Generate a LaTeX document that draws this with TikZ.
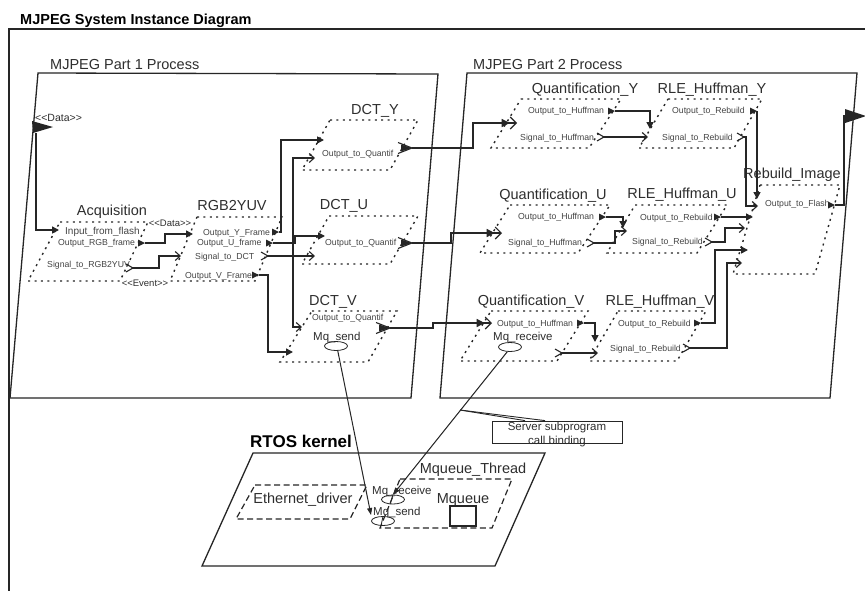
\documentclass[tikz,border=0pt]{standalone}
\usepackage{fontspec}
\setmainfont{Liberation Sans}
\usetikzlibrary{arrows.meta,shapes.geometric}
\definecolor{ln}{HTML}{262626}
\definecolor{tx}{HTML}{2E2E2E}
\definecolor{stx}{HTML}{454545}
\begin{document}
\begin{tikzpicture}[x=1pt,y=-1pt,
  frame/.style={draw=ln,line width=1.3pt,line join=miter},
  thread/.style={draw=ln,line width=1.4pt,dash pattern=on 2pt off 4.4pt},
  rthread/.style={draw=ln,line width=1.2pt,dash pattern=on 6pt off 3.5pt},
  conn/.style={draw=ln,line width=1.5pt},
  darr/.style={conn,-{Triangle[length=7pt,width=7pt]}},
  earr/.style={conn,-{Straight Barb[length=5pt,width=9pt,line width=1.1pt]}},
  edarr/.style={conn,-{Triangle[length=8pt,width=8pt]Straight Barb[length=6pt,width=12pt,line width=1.1pt]}},
  linkarr/.style={draw=ln,line width=1pt,-{Triangle[length=7pt,width=5pt]}},
  titlef/.style={font=\bfseries\fontsize{14.5}{16}\selectfont,text=black,inner sep=0pt},
  rtosf/.style={font=\bfseries\fontsize{17}{19}\selectfont,text=black,inner sep=0pt},
  big/.style={font=\fontsize{14.5}{16}\selectfont,text=tx,inner sep=0pt},
  mid/.style={font=\fontsize{11.5}{13}\selectfont,text=tx,inner sep=0pt},
  small/.style={font=\fontsize{8.7}{10}\selectfont,text=stx,inner sep=0pt},
  tag/.style={font=\fontsize{9.5}{11}\selectfont,text=tx,inner sep=0pt},
  ell/.style={draw=ln,line width=0.8pt,ellipse,minimum width=23pt,minimum height=9pt,inner sep=0pt},
  dport/.pic={\fill[ln] (-7,-3.5) -- (0,0) -- (-7,3.5) -- cycle;},
  eport/.pic={\draw[ln,line width=1.1pt] (-7,-4) -- (0,0) -- (-7,4);},
  edport/.pic={\draw[ln,line width=1.1pt] (-14,-5.5) -- (0,0) -- (-14,5.5);
               \fill[ln] (-11,-3.5) -- (0,0) -- (-11,3.5) -- cycle;}
]
\useasboundingbox (0,0) rectangle (865,590);
\fill[white] (0,0) rectangle (865,590);

% ---------- system frame ----------
\node[titlef,anchor=base west] (title) at (20,24) {MJPEG System Instance Diagram};
\draw[frame] (9,592) -- (9,29) -- (867,29);

% ---------- processes ----------
\draw[frame] (38,73) -- (438,74) -- (411,398) -- (10,398) -- cycle;
\draw[frame] (467,73) -- (857,73) -- (830,398) -- (440,398) -- cycle;
\node[big,anchor=base west] (p1lbl) at (50,69) {MJPEG Part 1 Process};
\node[big,anchor=base west] (p2lbl) at (473,69.5) {MJPEG Part 2 Process};

% Part 1 data port
\node[tag,font=\fontsize{10.5}{12}\selectfont,anchor=base west] (p1data) at (35,121) {<{}<Data>{}>};
\fill[ln] (32,121) -- (53,127) -- (33,133) -- cycle;
\coordinate (p1port) at (36,133);

% ---------- Acquisition ----------
\draw[thread] (60,222) -- (148,222) -- (120,281) -- (28,281) -- cycle;
\node[big,anchor=base] (acq) at (112,215) {Acquisition};
\node[small,font=\fontsize{10}{11}\selectfont,anchor=base west] (acqinl) at (65,234) {Input\_from\_flash};
\node[small,anchor=base west] (acqrgbl) at (58,245) {Output\_RGB\_frame};
\node[small,anchor=base west] (acqsigl) at (47,267) {Signal\_to\_RGB2YUV};
\coordinate (acqin) at (59,230);
\coordinate (acqrgb) at (145,243);
\coordinate (acqsig) at (133,268);
\pic at (acqrgb) {dport};
\pic at (acqsig) {eport};

% ---------- RGB2YUV ----------
\draw[thread] (197,217) -- (282,217) -- (255,281) -- (170,281) -- cycle;
\node[big,anchor=base] (rgb) at (232,210) {RGB2YUV};
\node[tag,anchor=base] (datatag) at (170,226) {<{}<Data>{}>};
\node[tag,anchor=base] (eventtag) at (145,286) {<{}<Event>{}>};
\node[small,anchor=base west] (rgbyl) at (203,235) {Output\_Y\_Frame};
\node[small,anchor=base west] (rgbul) at (197,245.5) {Output\_U\_frame};
\node[small,anchor=base west] (rgbsl) at (195,259) {Signal\_to\_DCT};
\node[small,anchor=base west] (rgbvl) at (185,278) {Output\_V\_Frame};
\coordinate (rgbin) at (193,234);
\coordinate (rgbsin) at (181,256);
\coordinate (rgby) at (279,232);
\coordinate (rgbu) at (273,243);
\coordinate (rgbs) at (268,256);
\coordinate (rgbv) at (259,275);
\pic at (rgby) {dport};
\pic at (rgbu) {dport};
\pic at (rgbs) {eport};
\pic at (rgbv) {dport};

% ---------- DCT_Y ----------
\draw[thread] (330,120) -- (418,120) -- (390,170) -- (302,170) -- cycle;
\node[big,anchor=base] (dcty) at (375,114) {DCT\_Y};
\node[small,anchor=base west] (dctyol) at (322,156) {Output\_to\_Quantif};
\coordinate (dctyin) at (324,140);
\coordinate (dctysin) at (315,158);
\coordinate (dctyo) at (412,148);
\pic at (dctyo) {edport};

% ---------- DCT_U ----------
\draw[thread] (329,216) -- (418,216) -- (390,264) -- (302,264) -- cycle;
\node[big,anchor=base] (dctu) at (344,209) {DCT\_U};
\node[small,anchor=base west] (dctuol) at (325,245) {Output\_to\_Quantif};
\coordinate (dctuin) at (325,236);
\coordinate (dctusin) at (315,256);
\coordinate (dctuo) at (412,243);
\pic at (dctuo) {edport};

% ---------- DCT_V ----------
\draw[thread] (312,311) -- (397,311) -- (368,362) -- (280,362) -- cycle;
\node[big,anchor=base] (dctv) at (333,305) {DCT\_V};
\node[small,anchor=base west] (dctvol) at (312,320) {Output\_to\_Quantif};
\node[mid,anchor=base west] (dctvmq) at (313,340) {Mq\_send};
\node[ell] (dctvell) at (336,346) {};
\coordinate (dctvsin) at (302,327);
\coordinate (dctvin) at (293,352);
\coordinate (dctvo) at (390,328);
\pic at (dctvo) {edport};

% ---------- Part 1 connections ----------
\draw[darr] (p1port) |- (acqin);
\draw[darr] (acqrgb) -- (165,243) |- (rgbin);
\draw[earr] (acqsig) -- (159,268) |- (rgbsin);
\draw[darr] (rgby) -- (281,232) |- (dctyin);
\draw[darr] (rgbu) -- (295,243) |- (dctuin);
\coordinate (sigjoin) at (293,256);
\draw[earr] (rgbs) -- (dctusin);
\draw[earr] (sigjoin) |- (dctysin);
\draw[earr] (sigjoin) |- (dctvsin);
\draw[darr] (rgbv) -- (268,275) |- (dctvin);

% ---------- Quantification_Y ----------
\draw[thread] (521,99) -- (621,99) -- (589,148) -- (491,148) -- cycle;
\node[big,anchor=base] (qy) at (585,93) {Quantification\_Y};
\node[small,anchor=base west] (qyol) at (528,113) {Output\_to\_Huffman};
\node[small,anchor=base west] (qysl) at (520,140) {Signal\_to\_Huffman};
\coordinate (qyin) at (517,123);
\coordinate (qyo) at (615,111);
\coordinate (qys) at (604,137);
\pic at (qyo) {dport};
\pic at (qys) {eport};

% ---------- RLE_Huffman_Y ----------
\draw[thread] (668,99) -- (762,99) -- (734,148) -- (639,148) -- cycle;
\node[big,anchor=base] (ry) at (712,93) {RLE\_Huffman\_Y};
\node[small,anchor=base west] (ryol) at (672,113) {Output\_to\_Rebuild};
\node[small,anchor=base west] (rysl) at (662,140) {Signal\_to\_Rebuild};
\coordinate (ryin) at (650,129);
\coordinate (rysin) at (648,137);
\coordinate (ryo) at (757,111);
\coordinate (rys) at (744,137);
\pic at (ryo) {dport};
\pic at (rys) {eport};

% ---------- Rebuild_Image ----------
\draw[thread] (760,185) -- (840,185) -- (815,274) -- (733,274) -- cycle;
\node[big,anchor=base] (rb) at (792,178) {Rebuild\_Image};
\node[small,anchor=base west] (rbol) at (765,206) {Output\_to\_Flash};
\coordinate (rbin1) at (757,199);
\coordinate (rbin2) at (758,206);
\coordinate (rbin3) at (753,217);
\coordinate (rbin4) at (745,228);
\coordinate (rbin5) at (748,250);
\coordinate (rbin6) at (742,263);
\coordinate (rbo) at (835,205);
\pic at (rbo) {dport};
\fill[ln] (845,109) -- (866,116) -- (845,123) -- cycle;
\coordinate (sysport) at (846,116);

% ---------- Quantification_U ----------
\draw[thread] (510,205) -- (610,205) -- (578,253) -- (480,253) -- cycle;
\node[big,anchor=base] (qu) at (553,199) {Quantification\_U};
\node[small,anchor=base west] (quol) at (518,219) {Output\_to\_Huffman};
\node[small,anchor=base west] (qusl) at (508,245) {Signal\_to\_Huffman};
\coordinate (quin) at (502,233);
\coordinate (quo) at (606,217);
\coordinate (qus) at (594,243);
\pic at (quo) {dport};
\pic at (qus) {eport};

% ---------- RLE_Huffman_U ----------
\draw[thread] (635,205) -- (727,205) -- (697,253) -- (607,253) -- cycle;
\node[big,anchor=base] (ru) at (682,198) {RLE\_Huffman\_U};
\node[small,anchor=base west] (ruol) at (640,220) {Output\_to\_Rebuild};
\node[small,anchor=base west] (rusl) at (632,244) {Signal\_to\_Rebuild};
\coordinate (ruin) at (623,228);
\coordinate (rusin) at (627,231);
\coordinate (ruo) at (721,217);
\coordinate (rus) at (712,242);
\pic at (ruo) {dport};
\pic at (rus) {eport};

% ---------- Quantification_V ----------
\draw[thread] (491,311) -- (588,311) -- (557,361) -- (460,361) -- cycle;
\node[big,anchor=base] (qv) at (531,305) {Quantification\_V};
\node[small,anchor=base west] (qvol) at (497,326) {Output\_to\_Huffman};
\node[mid,anchor=base west] (qvmq) at (493,340) {Mq\_receive};
\node[ell] (qvell) at (510,347) {};
\coordinate (qvin) at (492,323);
\coordinate (qvo) at (584,323);
\coordinate (qvs) at (562,353);
\pic at (qvo) {dport};
\pic at (qvs) {eport};

% ---------- RLE_Huffman_V ----------
\draw[thread] (618,311) -- (706,311) -- (677,361) -- (589,361) -- cycle;
\node[big,anchor=base] (rv) at (660,305) {RLE\_Huffman\_V};
\node[small,anchor=base west] (rvol) at (618,326) {Output\_to\_Rebuild};
\node[small,anchor=base west] (rvsl) at (610,351) {Signal\_to\_Rebuild};
\coordinate (rvin) at (595,342);
\coordinate (rvsin) at (598,353);
\coordinate (rvo) at (701,323);
\coordinate (rvs) at (690,348);
\pic at (rvo) {dport};
\pic at (rvs) {eport};

% ---------- inter-process and Part 2 connections ----------
\draw[edarr] (dctyo) -- (473,148) |- (qyin);
\draw[edarr] (dctuo) -- (451,243) |- (quin);
\draw[edarr] (dctvo) -- (433,328) |- (qvin);
\draw[darr] (qyo) -| (ryin);
\draw[earr] (qys) -- (rysin);
\draw[darr] (ryo) -- (rbin1);
\draw[earr] (rys) -- (746,137) |- (rbin2);
\draw[darr] (quo) -| (ruin);
\draw[earr] (qus) -- (615,243) |- (rusin);
\draw[darr] (ruo) -- (rbin3);
\draw[earr] (rus) -- (725,242) |- (rbin4);
\draw[darr] (qvo) -| (rvin);
\draw[earr] (qvs) -- (rvsin);
\draw[darr] (rvo) -- (715,323) |- (rbin5);
\draw[earr] (rvs) -- (727,348) |- (rbin6);
\draw[conn] (rbo) -- (844,205) |- (sysport);

% ---------- server subprogram call binding ----------
\node[draw=ln,line width=0.8pt,minimum width=130pt,minimum height=22pt,inner sep=0pt] (srvbox) at (557,432) {};
\node[mid,anchor=base] (srv1) at (557,430) {Server subprogram};
\node[mid,anchor=base] (srv2) at (557,444) {call binding};
\coordinate (lead) at (460,410);
\draw[ln,line width=0.9pt] (lead) -- ([xshift=-32pt]srvbox.north);
\draw[ln,line width=0.9pt] (lead) -- ([xshift=-12pt]srvbox.north);

% ---------- RTOS kernel ----------
\node[rtosf,anchor=base west] (rtoslbl) at (250,447) {RTOS kernel};
\draw[frame] (253,453) -- (545,453) -- (495,566) -- (202,566) -- cycle;
\draw[rthread] (255,485) -- (367,485) -- (350,519) -- (236,519) -- cycle;
\node[big,anchor=base] (eth) at (303,503) {Ethernet\_driver};
\draw[rthread] (400,479) -- (512,479) -- (492,528) -- (380,528) -- cycle;
\node[big,anchor=base] (mqt) at (473,473) {Mqueue\_Thread};
\node[big,anchor=base] (mq) at (463,503) {Mqueue};
\node[draw=ln,line width=1.3pt,minimum width=26pt,minimum height=20pt,inner sep=0pt] (mqbox) at (463,516) {};
\node[mid,anchor=base west] (rrecv) at (372,494) {Mq\_receive};
\node[ell] (rrecvell) at (393,499.5) {};
\node[mid,anchor=base west] (rsend) at (373,515) {Mq\_send};
\node[ell] (rsendell) at (383,521) {};
\draw[ln,line width=0.8pt] (rrecvell.north) -- ([xshift=-3pt]rrecvell.south);
\draw[ln,line width=0.8pt] (rsendell.north) -- ([xshift=-2pt]rsendell.south);

% ---------- links to the kernel ----------
\draw[linkarr] (dctvell.-70) -- ([xshift=-2pt]rsend.base west);
\draw[linkarr] (qvell.-120) -- (rrecvell.north);
\end{tikzpicture}
\end{document}
